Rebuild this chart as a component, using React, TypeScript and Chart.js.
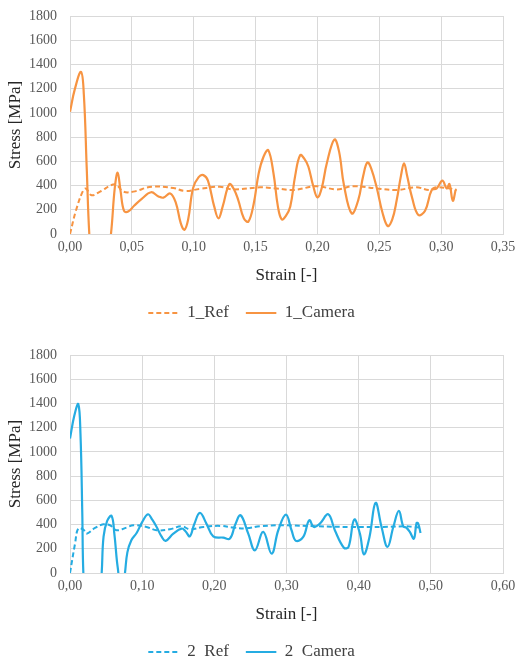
import React, { useEffect, useRef } from "react";
import { Chart, registerables } from "chart.js";
Chart.register(...registerables);

const FONT = "'Liberation Serif', 'Times New Roman', serif";
const ORANGE = "#F79442";
const BLUE = "#25ACE2";

// ---------- Chart 1 ----------
const ref1Strain = [0, 0.005, 0.0108, 0.013, 0.0175, 0.0243, 0.0364, 0.0431, 0.0512, 0.066, 0.0835, 0.093, 0.105, 0.121, 0.132, 0.1536, 0.167, 0.1806, 0.1994, 0.2156, 0.229, 0.248, 0.264, 0.28, 0.291, 0.295, 0.307, 0.3126];
const ref1Stress = [0, 200, 363, 375, 320, 350, 410, 350, 350, 390, 380, 355, 373, 390, 368, 385, 376, 363, 395, 368, 395, 376, 363, 385, 363, 385, 376, 363];

const cam1Strain = [0, 0.004, 0.0089, 0.0112, 0.0135, 0.0156, 0.019, 0.025, 0.03, 0.0331, 0.0362, 0.0385, 0.0408, 0.0437, 0.047, 0.052, 0.058, 0.0655, 0.0715, 0.0755, 0.081, 0.0855, 0.0895, 0.0925, 0.0955, 0.0995, 0.104, 0.1078, 0.1115, 0.1165, 0.12, 0.1235, 0.1288, 0.1325, 0.136, 0.1405, 0.1442, 0.1485, 0.1525, 0.1565, 0.1603, 0.1645, 0.168, 0.1711, 0.1745, 0.178, 0.182, 0.186, 0.1895, 0.1927, 0.1965, 0.2, 0.2035, 0.2075, 0.2137, 0.2175, 0.2215, 0.2277, 0.233, 0.237, 0.2404, 0.2435, 0.248, 0.2525, 0.2568, 0.2605, 0.2641, 0.2675, 0.27, 0.2725, 0.2765, 0.2816, 0.287, 0.2924, 0.2964, 0.301, 0.3045, 0.3067, 0.3094, 0.3117];
const cam1Stress = [1010, 1200, 1338, 1150, 550, 0, -450, -500, -200, 0, 380, 506, 360, 190, 185, 235, 290, 345, 310, 300, 335, 260, 90, 35, 120, 380, 470, 486, 440, 230, 129, 230, 412, 370, 280, 130, 102, 250, 500, 640, 692, 500, 230, 121, 150, 225, 480, 651, 620, 555, 400, 302, 380, 580, 780, 680, 400, 170, 280, 480, 591, 540, 380, 180, 66, 120, 280, 480, 583, 480, 300, 157, 192, 363, 376, 440, 376, 412, 275, 363];

// ---------- Chart 2 ----------
const ref2Strain = [0, 0.007, 0.0115, 0.0185, 0.023, 0.0346, 0.0461, 0.0554, 0.0646, 0.0785, 0.0877, 0.106, 0.12, 0.1385, 0.1547, 0.166, 0.1847, 0.2078, 0.2262, 0.2447, 0.263, 0.295, 0.3417, 0.388, 0.434, 0.466, 0.4755, 0.4857];
const ref2Stress = [0, 243, 367, 358, 325, 372, 402, 394, 353, 375, 394, 380, 353, 361, 386, 361, 380, 389, 375, 369, 386, 394, 386, 380, 380, 386, 380, 375];

const cam2Strain = [0, 0.006, 0.0115, 0.0145, 0.017, 0.0185, 0.024, 0.035, 0.041, 0.0439, 0.0465, 0.0515, 0.0577, 0.0615, 0.065, 0.067, 0.07, 0.074, 0.0762, 0.0795, 0.085, 0.0923, 0.1, 0.108, 0.114, 0.12, 0.127, 0.1325, 0.1432, 0.1547, 0.16, 0.166, 0.172, 0.18, 0.189, 0.1985, 0.2124, 0.2216, 0.229, 0.2364, 0.247, 0.2562, 0.2678, 0.2794, 0.2886, 0.2992, 0.307, 0.313, 0.3232, 0.3315, 0.338, 0.3463, 0.3578, 0.367, 0.3795, 0.386, 0.3938, 0.4017, 0.4072, 0.415, 0.4234, 0.4317, 0.44, 0.448, 0.4557, 0.4617, 0.466, 0.4709, 0.4765, 0.4802, 0.4825, 0.4857];
const cam2Stress = [1111, 1300, 1394, 1150, 500, 0, -600, -600, -200, 0, 300, 430, 471, 320, 100, 0, -250, -100, 0, 170, 270, 330, 420, 485, 440, 380, 300, 265, 325, 367, 345, 303, 400, 496, 408, 303, 292, 284, 400, 477, 325, 187, 339, 160, 353, 482, 353, 265, 298, 435, 380, 408, 485, 353, 209, 215, 441, 325, 154, 298, 579, 380, 215, 380, 513, 386, 375, 339, 284, 413, 408, 331];

const yMax = 1800;
const yStep = 200;

type Props = {
  refX: number[]; refY: number[]; camX: number[]; camY: number[];
  refLabel: string; camLabel: string; color: string; xMax: number; xStep: number;
};

function StressChart(p: Props) {
  const ref = useRef<HTMLCanvasElement>(null);
  useEffect(() => {
    const toPts = (xs: number[], ys: number[]) => xs.map((x, i) => ({ x, y: ys[i] }));
    const chart = new Chart(ref.current!, {
      type: "line",
      data: {
        datasets: [
          {
            label: p.refLabel,
            data: toPts(p.refX, p.refY),
            borderColor: p.color,
            backgroundColor: p.color,
            borderWidth: 2,
            borderDash: [5, 3],
            pointRadius: 0,
            tension: 0.4,
            fill: false,
          },
          {
            label: p.camLabel,
            data: toPts(p.camX, p.camY),
            borderColor: p.color,
            backgroundColor: p.color,
            borderWidth: 2.2,
            pointRadius: 0,
            tension: 0.4,
            fill: false,
          },
        ],
      },
      options: {
        responsive: false,
        animation: false,
        layout: { padding: { top: 16, right: 13, bottom: 7.5, left: 0 } },
        scales: {
          x: {
            type: "linear",
            min: 0,
            max: p.xMax,
            ticks: {
              stepSize: p.xStep,
              padding: 5,
              maxRotation: 0,
              color: "#595959",
              font: { family: FONT, size: 14 },
              callback: (v: any) => Number(v).toFixed(2).replace(".", ","),
            },
            grid: { color: "#D9D9D9", drawTicks: false },
            border: { color: "#D9D9D9" },
            title: {
              display: true,
              text: "Strain [-]",
              color: "#262626",
              font: { family: FONT, size: 17 },
              padding: { top: 0, bottom: 2 },
            },
            afterFit: (s: any) => {
              s.height = 53.5;
              s.paddingLeft = 0;
              s.paddingRight = 0;
            },
          },
          y: {
            min: 0,
            max: yMax,
            ticks: {
              stepSize: yStep,
              padding: 13,
              color: "#595959",
              font: { family: FONT, size: 14 },
              callback: (v: any) => String(v),
            },
            grid: { color: "#D9D9D9", drawTicks: false },
            border: { color: "#D9D9D9" },
            title: {
              display: true,
              text: "Stress [MPa]",
              color: "#262626",
              font: { family: FONT, size: 17 },
              padding: { top: 5, bottom: 0 },
            },
            afterFit: (s: any) => {
              s.width = 70;
              s.paddingTop = 0;
              s.paddingBottom = 0;
            },
          },
        },
        plugins: {
          legend: {
            position: "bottom",
            labels: {
              boxWidth: 30.5,
              boxHeight: 0,
              padding: 17,
              color: "#404040",
              font: { family: FONT, size: 17 },
            },
          },
          tooltip: { enabled: false },
        },
      } as any,
    });
    return () => chart.destroy();
  }, []);
  return <canvas ref={ref} width={516} height={339} style={{ display: "block" }} />;
}

export default function App() {
  return (
    <div style={{ position: "absolute", left: 0, top: 0, width: 516, height: 657, overflow: "hidden", background: "#fff" }}>
      <StressChart refX={ref1Strain} refY={ref1Stress} camX={cam1Strain} camY={cam1Stress}
        refLabel="1_Ref" camLabel="1_Camera" color={ORANGE} xMax={0.35} xStep={0.05} />
      <StressChart refX={ref2Strain} refY={ref2Stress} camX={cam2Strain} camY={cam2Stress}
        refLabel="2_Ref" camLabel="2_Camera" color={BLUE} xMax={0.6} xStep={0.1} />
    </div>
  );
}
